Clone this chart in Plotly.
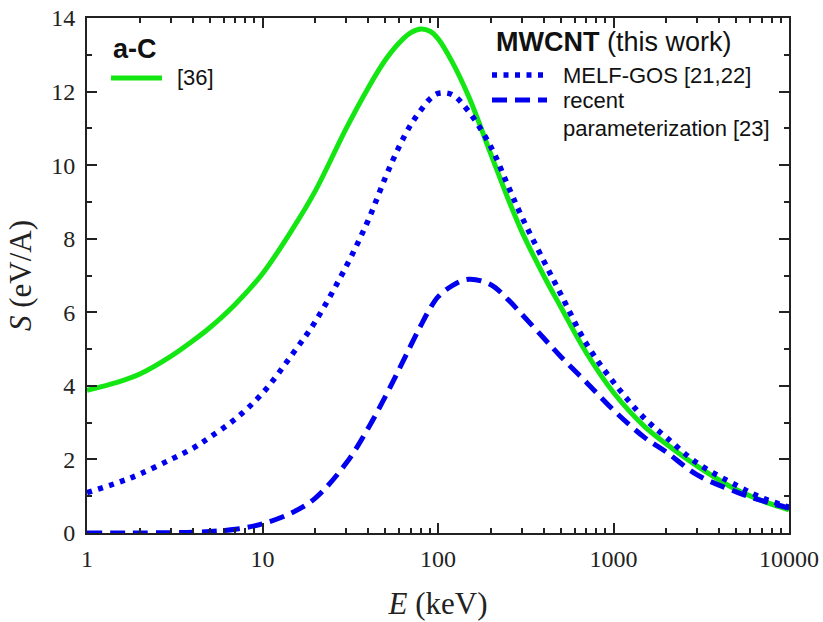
import plotly.graph_objects as go

# Energies (keV)
E = [1, 1.5, 2, 3, 4, 5, 7, 10, 15, 20, 30, 40, 50, 60, 70, 80, 90, 100, 120, 150,
     200, 250, 300, 400, 500, 700, 1000, 1500, 2000, 3000, 5000, 7000, 10000]

# a-C [36]
S_aC = [3.88, 4.1, 4.32, 4.8, 5.22, 5.58, 6.22, 7.05, 8.3, 9.3, 11.0, 12.1, 12.85, 13.32,
        13.6, 13.7, 13.64, 13.44, 12.82, 11.85, 10.3, 9.1, 8.2, 7.0, 6.15, 4.9, 3.82,
        2.9, 2.42, 1.82, 1.18, 0.88, 0.63]

# MWCNT MELF-GOS [21,22]
S_melf = [1.1, 1.37, 1.6, 2.0, 2.3, 2.6, 3.1, 3.8, 4.9, 5.75, 7.25, 8.5, 9.65, 10.5,
          11.1, 11.5, 11.8, 11.95, 11.92, 11.45, 10.5, 9.45, 8.6, 7.4, 6.5, 5.15, 4.1,
          3.12, 2.6, 1.9, 1.3, 0.96, 0.7]

# MWCNT recent parameterization [23]
S_recent = [0.0, 0.0, 0.0, 0.01, 0.02, 0.04, 0.1, 0.25, 0.57, 0.95, 1.9, 2.85, 3.7, 4.45,
            5.1, 5.65, 6.1, 6.42, 6.72, 6.9, 6.75, 6.35, 5.95, 5.3, 4.8, 4.1, 3.34,
            2.6, 2.2, 1.58, 1.12, 0.88, 0.68]

x_ticks = [1, 10, 100, 1000, 10000]
x_ticktext = ["1", "10", "100", "1000", "10000"]
x_minor = [m * d for d in [1, 10, 100, 1000] for m in range(2, 10)]
y_ticks = [0, 2, 4, 6, 8, 10, 12, 14]
y_minor = [1, 3, 5, 7, 9, 11, 13]

GREEN = "#14e614"
BLUE = "#0000ee"
AXC = "#222222"
SERIF = "Liberation Serif, Times New Roman, serif"
SANS = "Liberation Sans, Arial, sans-serif"

fig = go.Figure()
fig.add_trace(go.Scatter(x=E, y=S_aC, mode="lines", line=dict(color=GREEN, width=5),
                         line_shape="spline", showlegend=False))
fig.add_trace(go.Scatter(x=E, y=S_melf, mode="lines",
                         line=dict(color=BLUE, width=5.5, dash="5px,6.5px"),
                         line_shape="spline", showlegend=False))
fig.add_trace(go.Scatter(x=E, y=S_recent, mode="lines",
                         line=dict(color=BLUE, width=5, dash="15px,8px"),
                         line_shape="spline", showlegend=False))

L, R, T, B = 87, 789, 18, 533
W, H = 823, 622
def px(x):
    return (x - L) / (R - L)
def py(y):
    return (B - y) / (B - T)

shapes = [
    dict(type="line", xref="paper", yref="paper", x0=px(111), x1=px(162), y0=py(78), y1=py(78),
         line=dict(color=GREEN, width=5)),
    dict(type="line", xref="paper", yref="paper", x0=px(492), x1=px(547), y0=py(75), y1=py(75),
         line=dict(color=BLUE, width=5.5, dash="5px,6.5px")),
    dict(type="line", xref="paper", yref="paper", x0=px(492), x1=px(547), y0=py(100), y1=py(100),
         line=dict(color=BLUE, width=5, dash="15px,8px")),
]

def ann(text, x, y, size=22):
    return dict(text=text, xref="paper", yref="paper", x=px(x), y=py(y), xanchor="left",
                yanchor="middle", showarrow=False, font=dict(family=SANS, size=size, color="#111"))

annotations = [
    ann("<b>a-C</b>", 111, 49, 27),
    ann("[36]", 175, 78),
    ann("<b>MWCNT</b> (this work)", 494, 42, 27),
    ann("MELF-GOS [21,22]", 561, 75),
    ann("recent", 561, 101),
    ann("parameterization [23]", 561, 128),
]

fig.update_layout(
    width=W, height=H,
    margin=dict(l=L, r=W - R, t=T, b=H - B, autoexpand=False),
    paper_bgcolor="white", plot_bgcolor="white",
    shapes=shapes, annotations=annotations,
    showlegend=False,
)
fig.update_xaxes(
    type="log", range=[0, 4], showgrid=False, zeroline=False, automargin=False,
    showline=True, linecolor=AXC, linewidth=2, mirror="ticks",
    ticks="inside", ticklen=10, tickwidth=2, tickcolor=AXC,
    tickvals=x_ticks, ticktext=x_ticktext,
    tickfont=dict(family=SERIF, size=24, color="#222"),
    ticklabelstandoff=3,
    minor=dict(tickvals=x_minor, ticks="inside", ticklen=5, tickwidth=1.5, tickcolor=AXC, showgrid=False),
    title=dict(text="<i>E</i> (keV)", font=dict(family=SERIF, size=31, color="#222"), standoff=22),
)
fig.update_yaxes(
    range=[0, 14], showgrid=False, zeroline=False, automargin=False,
    showline=True, linecolor=AXC, linewidth=2, mirror="ticks",
    ticks="inside", ticklen=10, tickwidth=2, tickcolor=AXC,
    tickvals=y_ticks,
    tickfont=dict(family=SERIF, size=24, color="#222"),
    ticklabelstandoff=5,
    minor=dict(tickvals=y_minor, ticks="inside", ticklen=5, tickwidth=1.5, tickcolor=AXC, showgrid=False),
    title=dict(text="<i>S</i> (eV/A)", font=dict(family=SERIF, size=31, color="#222"), standoff=10),
)

fig.write_html("out.html", config={"displayModeBar": False},
               post_script="document.body.style.margin='0';document.body.style.overflow='hidden';")
